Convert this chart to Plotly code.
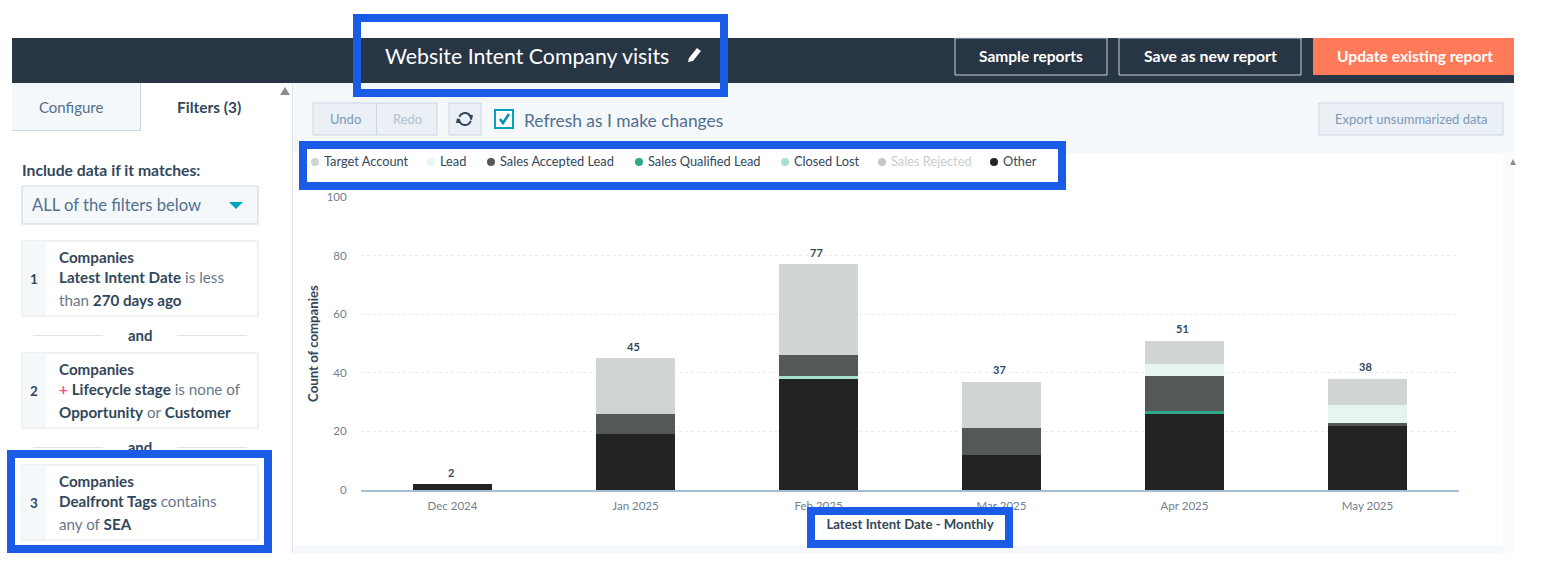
import math
import plotly.graph_objects as go

W = 1542
H = 573

months = ["Dec 2024", "Jan 2025", "Feb 2025", "Mar 2025", "Apr 2025", "May 2025"]
other = [2, 19, 38, 12, 26, 22]
sales_rejected = [0, 0, 0, 0, 0, 0]
closed_lost = [0, 0, 1, 0, 0, 0]
sales_qualified = [0, 0, 0, 0, 1, 0]
sales_accepted = [0, 7, 7, 9, 12, 1]
lead = [0, 0, 0, 0, 4, 6]
target_account = [0, 19, 31, 16, 8, 9]
totals = [2, 45, 77, 37, 51, 38]
y_ticks = [0, 20, 40, 60, 80, 100]

FONT = "Lato"
DARK = "#33475b"
MID = "#516f90"
SOFT = "#68788a"
BLUE = "#1a5ce6"
TEAL = "#00a4bd"
LINE = "#dfe3eb"
PALE = "#f5f8fa"

# bottom of the stack first
stack = [
    ("Other", other, "#222423"),
    ("Sales Rejected", sales_rejected, "#c4c8c7"),
    ("Closed Lost", closed_lost, "#a8e0d0"),
    ("Sales Qualified Lead", sales_qualified, "#2fa888"),
    ("Sales Accepted Lead", sales_accepted, "#545958"),
    ("Lead", lead, "#e6f5f1"),
    ("Target Account", target_account, "#d0d5d3"),
]

fig = go.Figure()
for name, values, color in stack:
    fig.add_trace(go.Bar(x=months, y=values, name=name, marker=dict(color=color, line=dict(width=0))))

shapes = []
annotations = []


def px(x):
    return x / W


def py(y):
    return 1 - y / H


def rect(x0, y0, x1, y1, fill=None, line=None, width=1, layer="below"):
    shapes.append(dict(
        type="rect", xref="paper", yref="paper", layer=layer,
        x0=px(x0), y0=py(y0), x1=px(x1), y1=py(y1),
        fillcolor=fill if fill else "rgba(0,0,0,0)",
        line=dict(color=line if line else "rgba(0,0,0,0)", width=width if line else 0),
    ))


def poly(points, fill=None, line=None, width=1, close=True):
    d = "M " + " L ".join(f"{px(x):.5f},{py(y):.5f}" for x, y in points)
    if close:
        d += " Z"
    shapes.append(dict(
        type="path", xref="paper", yref="paper", layer="below", path=d,
        fillcolor=fill if fill else "rgba(0,0,0,0)",
        line=dict(color=line if line else "rgba(0,0,0,0)", width=width if line else 0),
    ))


def label(x, y, text, size=13, color=DARK, anchor="left"):
    annotations.append(dict(
        xref="paper", yref="paper", x=px(x), y=py(y), text=text, showarrow=False,
        xanchor=anchor, yanchor="middle", align=anchor, borderpad=0,
        font=dict(family=FONT, size=size, color=color),
    ))


def bold(text):
    return f"<span style='color:{DARK}'><b>{text}</b></span>"


def frame(x0, y0, x1, y1):
    # blue highlight boxes, painted over the app screenshot
    rect(x0 + 4, y0 + 4, x1 - 4, y1 - 4, line=BLUE, width=8, layer="above")


# header band
rect(12, 38, 1514, 83, fill="#283544")
rect(361, 83, 720, 88, fill="#ffffff")
rect(955, 38, 1107, 75, line="#cbd6e2")
rect(1119, 38, 1301, 75, line="#cbd6e2")
rect(1313, 38, 1514, 75, fill="#ff7a59")
label(384, 56, "Website Intent Company visits", 21.3, "#ffffff")
poly([(689, 58), (697, 48), (701, 51), (693, 61), (688, 62)], fill="#ffffff")
label(1031, 56, "<b>Sample reports</b>", 15.5, "#ffffff", "center")
label(1210, 56, "<b>Save as new report</b>", 15.8, "#ffffff", "center")
label(1415, 56, "<b>Update existing report</b>", 15.6, "#ffffff", "center")

# toolbar and chart area
rect(293, 83, 1514, 153, fill=PALE)
rect(293, 153, 1503, 546, fill="#ffffff")
rect(293, 546, 1503, 553, fill=PALE)
rect(1503, 153, 1514, 553, fill="#fafbfc")
rect(292, 83, 293, 553, fill=LINE)
poly([(1510, 165), (1516, 165), (1513, 159)], fill="#8a8f94")
poly([(280, 95), (290, 95), (285, 87)], fill="#8a8f94")

rect(313, 103, 437, 135, fill="#eaf0f6", line="#cbd6e2")
rect(376, 103, 377, 135, fill="#cbd6e2")
label(345, 119, "Undo", 13, "#7c98b6", "center")
label(407, 119, "Redo", 13, "#b0c1d4", "center")
rect(449, 103, 481, 135, fill="#eaf0f6", line="#cbd6e2")
poly([(465 + 6 * math.cos(a / 10), 119 + 6 * math.sin(a / 10)) for a in range(-28, 2)], line=DARK, width=2, close=False)
poly([(465 + 6 * math.cos(a / 10), 119 + 6 * math.sin(a / 10)) for a in range(3, 33)], line=DARK, width=2, close=False)
poly([(468, 115), (473, 115), (472, 120)], fill=DARK)
poly([(457, 118), (461, 123), (456, 123)], fill=DARK)
rect(495, 110, 513, 128, fill="#ffffff", line=TEAL, width=2)
poly([(500, 119), (503, 123), (509, 114)], line="#0091ae", width=2.5, close=False)
label(523, 120, "Refresh as I make changes", 17.4, MID)
rect(1319, 103, 1503, 135, fill="#eaf0f6", line="#cbd6e2")
label(1411, 119, "Export unsummarized data", 13, "#7c98b6", "center")

# left panel
rect(12, 83, 140, 131, fill=PALE)
rect(12, 130, 140, 131, fill="#cbd6e2")
rect(140, 83, 141, 131, fill="#cbd6e2")
label(71, 107, "Configure", 15, MID, "center")
label(209, 107, "<b>Filters (3)</b>", 15.5, DARK, "center")
label(21, 170, "<b>Include data if it matches:</b>", 15.7, DARK)
rect(22, 186, 258, 224, fill=PALE, line="#cbd6e2")
label(31, 205, "ALL of the filters below", 16.6, MID)
poly([(229, 202), (243, 202), (236, 209)], fill=TEAL)

cards = [
    (241, "1", [bold("Companies"),
                bold("Latest Intent Date") + " is less",
                "than " + bold("270 days ago")]),
    (353, "2", [bold("Companies"),
                "<span style='color:#f2547d'><b>+</b></span> " + bold("Lifecycle stage") + " is none of",
                bold("Opportunity") + " or " + bold("Customer")]),
    (465, "3", [bold("Companies"),
                bold("Dealfront Tags") + " contains",
                "any of " + bold("SEA")]),
]
for top, number, lines in cards:
    rect(22, top, 258, top + 75, fill="#ffffff", line=LINE)
    rect(22.5, top + 0.5, 46, top + 74.5, fill=PALE)
    label(34, top + 38, f"<b>{number}</b>", 13.5, DARK, "center")
    for offset, line in zip((16, 36, 59), lines):
        label(58, top + offset, line, 15.2, SOFT)

for y in (335, 447):
    rect(33, y, 103, y + 1, fill=LINE)
    rect(177, y, 247, y + 1, fill=LINE)
label(140, 335, "<b>and</b>", 15, DARK, "center")
# sits under the blue frame, so it goes in a shape label and not an annotation
shapes.append(dict(
    type="rect", xref="paper", yref="paper", layer="below",
    x0=px(120), x1=px(160), y0=py(456), y1=py(438),
    fillcolor="rgba(0,0,0,0)", line=dict(width=0),
    label=dict(text="<b>and</b>", font=dict(family=FONT, size=15, color=DARK),
               textposition="middle center"),
))

# legend, drawn by hand because the app uses dots with uneven spacing
rect(303, 145, 1062, 186, fill="#ffffff")
legend_items = [
    ("Target Account", "#d0d5d3", DARK, 315),
    ("Lead", "#e6f5f1", DARK, 431),
    ("Sales Accepted Lead", "#545958", DARK, 491),
    ("Sales Qualified Lead", "#2fa888", DARK, 639),
    ("Closed Lost", "#a8e0d0", DARK, 785),
    ("Sales Rejected", "#c4c8c7", "#c9cdd1", 882),
    ("Other", "#222423", DARK, 994),
]
for name, dot, text_color, x in legend_items:
    shapes.append(dict(
        type="circle", xref="paper", yref="paper", layer="below",
        x0=px(x - 4), x1=px(x + 4), y0=py(158), y1=py(166),
        fillcolor=dot, line=dict(width=0),
    ))
    label(x + 8, 161, name, 12.8, text_color)

rect(807, 507, 1013, 548, fill="#ffffff", layer="above")
frame(353, 14, 728, 97)
frame(299, 141, 1066, 190)
frame(7, 450, 272, 553)
frame(807, 507, 1013, 548)

for month, total in zip(months, totals):
    annotations.append(dict(
        x=month, y=total, xref="x", yref="y", text=f"<b>{total}</b>", showarrow=False,
        yanchor="middle", yshift=12, xshift=-2,
        font=dict(family=FONT, size=11, color=DARK),
    ))

fig.update_layout(
    width=W, height=H,
    margin=dict(l=0, r=0, t=0, b=0),
    paper_bgcolor="#ffffff",
    plot_bgcolor="#ffffff",
    barmode="stack",
    bargap=0.563,
    showlegend=False,
    shapes=shapes,
    annotations=annotations,
    font=dict(family=FONT),
    xaxis=dict(
        automargin=False,
        domain=[361 / W, 1459 / W],
        tickfont=dict(size=11.5, color="#6f7f8f"),
        ticks="outside", ticklen=4, tickcolor="rgba(0,0,0,0)",
        showline=True, linecolor="#a9bdd2", linewidth=1.5,
        title=dict(text="<b>Latest Intent Date - Monthly</b>", standoff=9,
                   font=dict(size=13.2, color=DARK)),
    ),
    yaxis=dict(
        automargin=False,
        domain=[1 - 490 / H, 1 - 197 / H],
        range=[0, 100],
        tickvals=y_ticks,
        tickfont=dict(size=11.5, color="#6f7f8f"),
        ticks="outside", ticklen=11, tickcolor="rgba(0,0,0,0)",
        gridcolor="#e7ebf1", griddash="dot", gridwidth=1,
        zeroline=False,
        title=dict(text="<b>Count of companies</b>", standoff=5,
                   font=dict(size=13.2, color=DARK)),
    ),
)

# the default 8px body margin would push the page out of the window
fig.write_html("out.html", config={"displayModeBar": False},
               post_script="document.body.style.margin='0';document.body.style.overflow='hidden';")
